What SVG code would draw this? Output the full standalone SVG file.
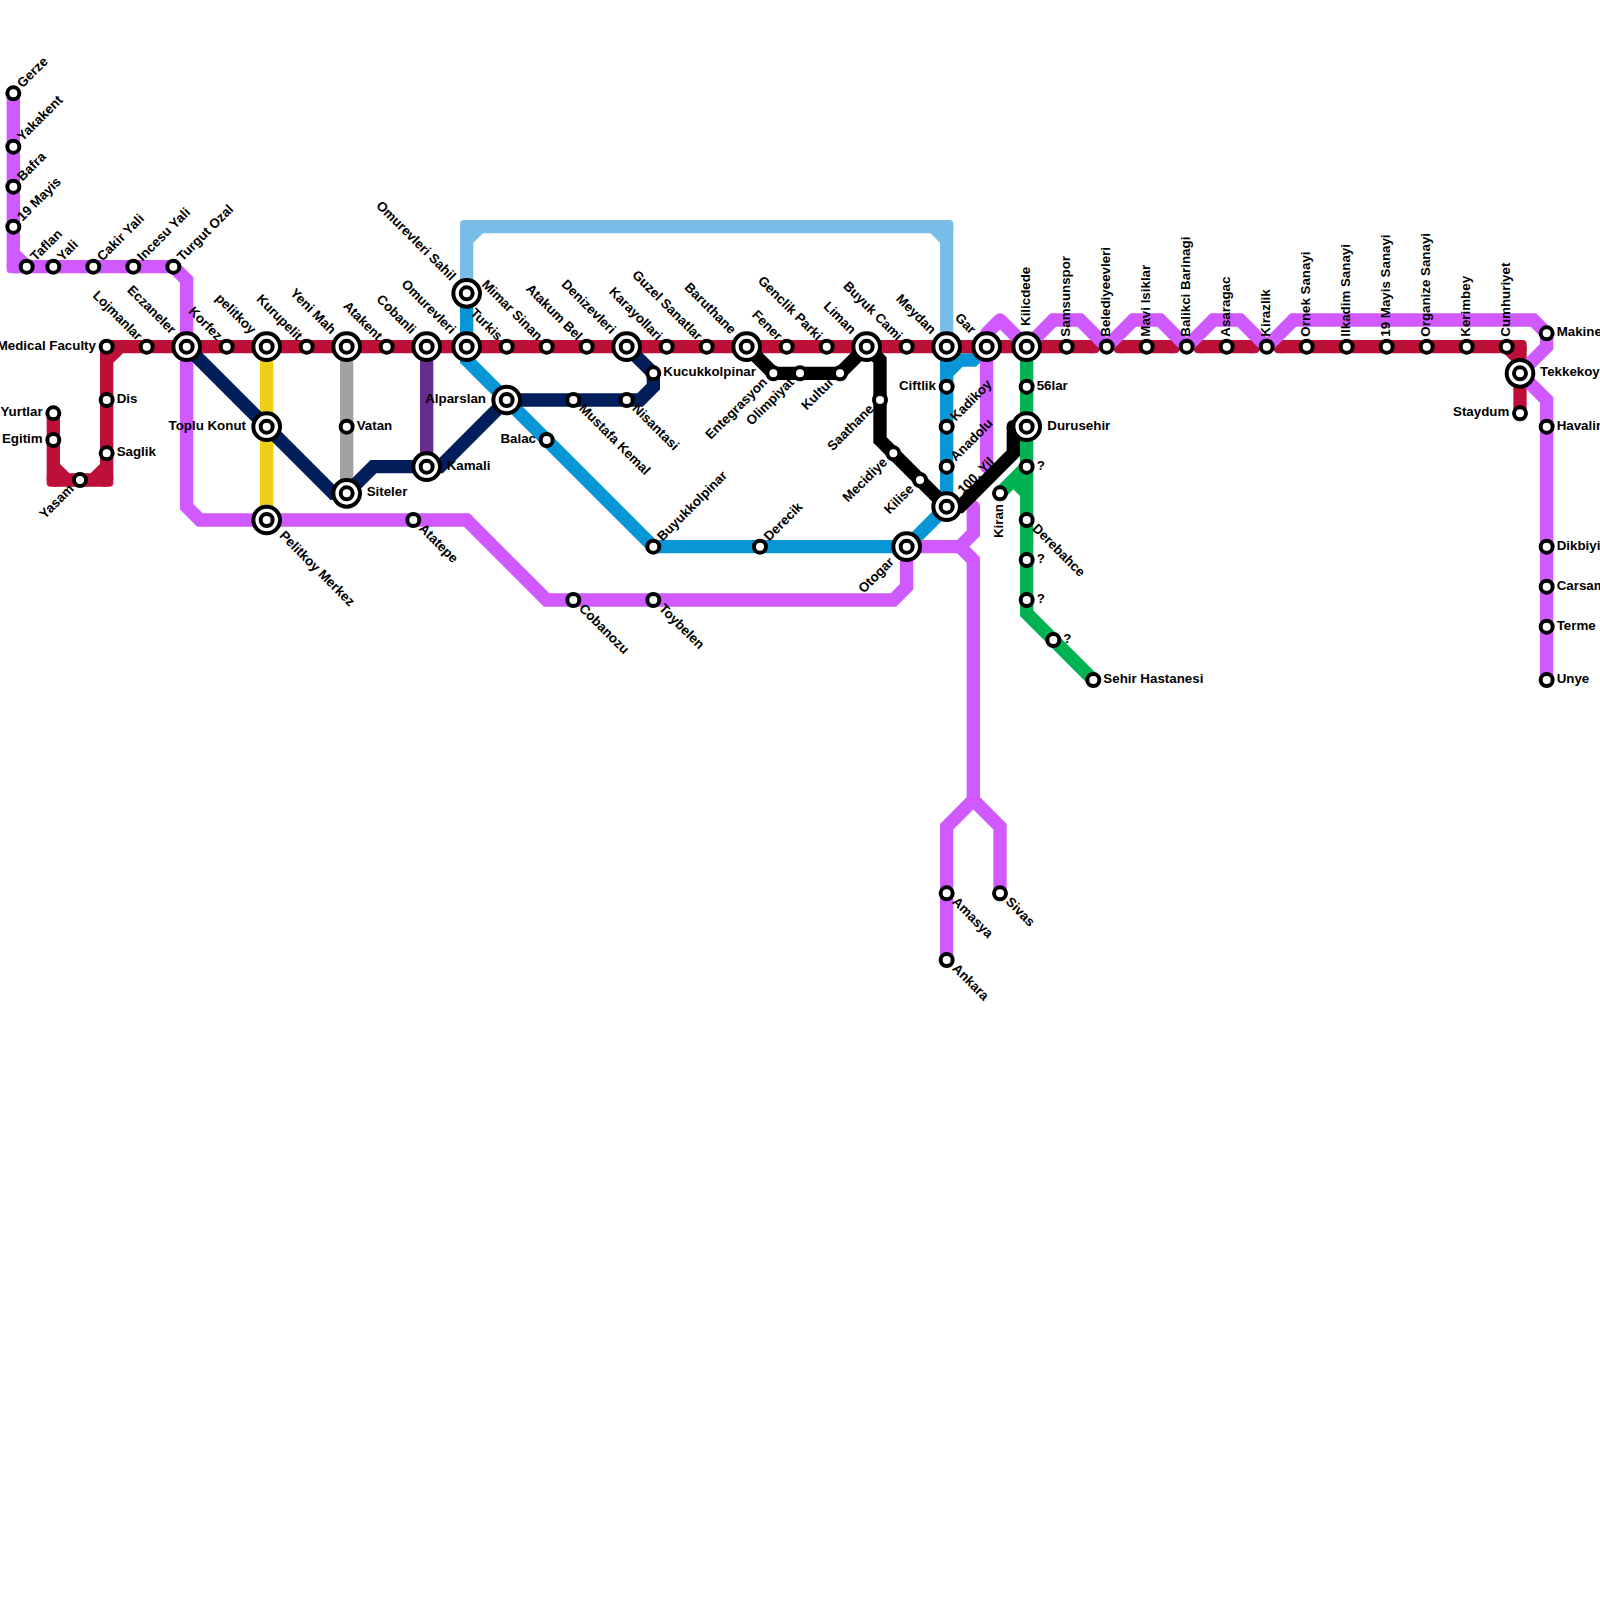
<svg xmlns="http://www.w3.org/2000/svg" width="1600" height="1600" viewBox="0 0 1600 1600">
<style>
text{font:bold 13.33px "Liberation Sans",Arial,sans-serif;fill:#000}
.e{text-anchor:end}
.l{fill:none;stroke-width:13.33;stroke-linejoin:miter;stroke-linecap:butt}
.rc{stroke-linecap:round}
.rj{stroke-linejoin:round}
.red{stroke:#BD1038}.pur{stroke:#D059FF}.tea{stroke:#0896D7}.sky{stroke:#79BDE9}.grn{stroke:#00B251}.nav{stroke:#021E5A}.blk{stroke:#000}.yel{stroke:#F0CE15}.gry{stroke:#A2A2A2}.dpu{stroke:#662C90}
</style>
<defs>
<rect id="c" x="-6.67" y="-6.67" width="13.33" height="13.33" rx="4"/>
<rect id="c2" x="-6.67" y="-6.67" width="13.33" height="13.33" rx="6"/>
<circle id="s" r="6" fill="#fff" stroke="#000" stroke-width="4"/>
<g id="b"><circle r="13.33" fill="#fff" stroke="#000" stroke-width="4"/><circle r="6" fill="#fff" stroke="#000" stroke-width="4"/></g>
</defs>
<rect width="1600" height="1600" fill="#fff"/>
<g id="connectors">
<path class="l tea" d="M466.67 346.67V360L653.33 546.67H906.67L946.67 506.67V346.67M946.67 373.33L960 360H973.33L986.67 346.67"/>
<path class="l sky" d="M466.67 293.33V226.67M466.67 226.67H946.67M946.67 226.67V346.67M466.67 240L480 226.67M933.33 226.67L946.67 240"/>
<g fill="#79BDE9"><use href="#c" x="466.67" y="226.67"/><use href="#c" x="946.67" y="226.67"/></g>
<path class="l tea" d="M466.67 293.33V346.67"/>
<path class="l yel" d="M266.67 346.67V520"/>
<path class="l gry" d="M346.67 346.67V493.33"/>
<path class="l dpu" d="M426.67 346.67V466.67"/>
<path class="l red" d="M53.33 413.33V480M53.33 480H106.67M106.67 480V346.67M106.67 346.67H1092.67M53.33 466.67L66.67 480M93.33 480L106.67 466.67M106.67 360L120 346.67M1120.67 346.67H1172.67M1200.67 346.67H1252.67M1280.67 346.67H1520M1520 346.67V413.33M1506.67 346.67L1520 360"/>
<g fill="#BD1038"><use href="#c" x="53.33" y="480"/><use href="#c" x="106.67" y="480"/><use href="#c" x="106.67" y="346.67"/><use href="#c" x="1092.67" y="346.67"/><use href="#c" x="1120.67" y="346.67"/><use href="#c" x="1172.67" y="346.67"/><use href="#c" x="1200.67" y="346.67"/><use href="#c" x="1252.67" y="346.67"/><use href="#c" x="1280.67" y="346.67"/><use href="#c" x="1520" y="346.67"/></g>
<path class="l pur" d="M13.33 93.33V266.67M13.33 266.67H173.33L186.67 280V506.67L200 520H466.67L546.67 600H893.33L906.67 586.67V546.67M13.33 253.33L26.67 266.67M960 546.67L973.33 560V800L946.67 826.67V960M973.33 800L1000 826.67V893.33"/>
<use href="#c" x="13.33" y="266.67" fill="#D059FF"/>
<path class="l pur rc" d="M906.67 546.67H960L973.33 533.33V506.67"/>
<path class="l pur rc" d="M986.67 346.67V466.67"/>
<path class="l pur rj" d="M986.67 346.67V333.33L1000 320L1026.67 346.67"/>
<path class="l pur" d="M1026.67 346.67L1053.33 320H1080L1106.67 346.67M1106.67 346.67L1133.33 320H1160L1186.67 346.67M1186.67 346.67L1213.33 320H1240L1266.67 346.67M1266.67 346.67L1293.33 320H1533.33L1546.67 333.33V346.67L1520 373.33L1546.67 400V680"/>
<path class="l grn" d="M1026.67 346.67V613.33L1093.33 680M1000 493.33L1026.67 466.67M1013.33 480L1026.67 493.33"/>
<path class="l nav" d="M186.67 346.67L333.33 493.33H346.67L373.33 466.67H440L506.67 400H640L653.33 386.67V373.33L626.67 346.67"/>
<path class="l blk" d="M746.67 346.67L773.33 373.33H840L866.67 346.67L880 360V440L946.67 506.67H960L1013.33 453.33V426.67M1013.33 426.67H1026.67"/>
<use href="#c2" x="1013.33" y="426.67" fill="#000"/>
</g>
<g id="nodes">
<g id="gerze" transform="translate(13.33 93.33)"><use href="#s"/><text transform="rotate(-45)" x="10" y="3">Gerze</text></g>
<g id="yakakent" transform="translate(13.33 146.67)"><use href="#s"/><text transform="rotate(-45)" x="10" y="3">Yakakent</text></g>
<g id="bafra" transform="translate(13.33 186.67)"><use href="#s"/><text transform="rotate(-45)" x="10" y="3">Bafra</text></g>
<g id="mayis19" transform="translate(13.33 226.67)"><use href="#s"/><text transform="rotate(-45)" x="10" y="3">19 Mayis</text></g>
<g id="taflan" transform="translate(26.67 266.67)"><use href="#s"/><text transform="rotate(-45)" x="10" y="3">Taflan</text></g>
<g id="yali" transform="translate(53.33 266.67)"><use href="#s"/><text transform="rotate(-45)" x="10" y="3">Yali</text></g>
<g id="cakir-yali" transform="translate(93.33 266.67)"><use href="#s"/><text transform="rotate(-45)" x="10" y="3">Cakir Yali</text></g>
<g id="incesu-yali" transform="translate(133.33 266.67)"><use href="#s"/><text transform="rotate(-45)" x="10" y="3">Incesu Yali</text></g>
<g id="turgut-ozal" transform="translate(173.33 266.67)"><use href="#s"/><text transform="rotate(-45)" x="10" y="3">Turgut Ozal</text></g>
<g id="medical-faculty" transform="translate(106.67 346.67)"><use href="#s"/><text class="e" x="-10.7" y="3">Medical Faculty</text></g>
<g id="dis" transform="translate(106.67 400)"><use href="#s"/><text x="10" y="3">Dis</text></g>
<g id="saglik" transform="translate(106.67 453.33)"><use href="#s"/><text x="10" y="3">Saglik</text></g>
<g id="yurtlar" transform="translate(53.33 413.33)"><use href="#s"/><text class="e" x="-10.7" y="3">Yurtlar</text></g>
<g id="egitim" transform="translate(53.33 440)"><use href="#s"/><text class="e" x="-10.7" y="3">Egitim</text></g>
<g id="yasam" transform="translate(80 480)"><use href="#s"/><text class="e" transform="rotate(-45)" x="-10.7" y="3">Yasam</text></g>
<g id="lojmanlar" transform="translate(146.67 346.67)"><use href="#s"/><text class="e" transform="rotate(45)" x="-10.7" y="3">Lojmanlar</text></g>
<g id="eczaneler" transform="translate(186.67 346.67)"><use href="#b"/><text class="e" transform="rotate(45)" x="-20" y="3">Eczaneler</text></g>
<g id="korfez" transform="translate(226.67 346.67)"><use href="#s"/><text class="e" transform="rotate(45)" x="-10.7" y="3">Korfez</text></g>
<g id="pelitkoy" transform="translate(266.67 346.67)"><use href="#b"/><text class="e" transform="rotate(45)" x="-20" y="3">pelitkoy</text></g>
<g id="kurupelit" transform="translate(306.67 346.67)"><use href="#s"/><text class="e" transform="rotate(45)" x="-10.7" y="3">Kurupelit</text></g>
<g id="yeni-mah" transform="translate(346.67 346.67)"><use href="#b"/><text class="e" transform="rotate(45)" x="-20" y="3">Yeni Mah</text></g>
<g id="atakent" transform="translate(386.67 346.67)"><use href="#s"/><text class="e" transform="rotate(45)" x="-10.7" y="3">Atakent</text></g>
<g id="cobanli" transform="translate(426.67 346.67)"><use href="#b"/><text class="e" transform="rotate(45)" x="-20" y="3">Cobanli</text></g>
<g id="omurevleri" transform="translate(466.67 346.67)"><use href="#b"/><text class="e" transform="rotate(45)" x="-20" y="3">Omurevleri</text></g>
<g id="omurevleri-sahil" transform="translate(466.67 293.33)"><use href="#b"/><text class="e" transform="rotate(45)" x="-20" y="3">Omurevleri Sahil</text></g>
<g id="turkis" transform="translate(506.67 346.67)"><use href="#s"/><text class="e" transform="rotate(45)" x="-10.7" y="3">Turkis</text></g>
<g id="mimar-sinan" transform="translate(546.67 346.67)"><use href="#s"/><text class="e" transform="rotate(45)" x="-10.7" y="3">Mimar Sinan</text></g>
<g id="atakum-bel" transform="translate(586.67 346.67)"><use href="#s"/><text class="e" transform="rotate(45)" x="-10.7" y="3">Atakum Bel</text></g>
<g id="denizevleri" transform="translate(626.67 346.67)"><use href="#b"/><text class="e" transform="rotate(45)" x="-20" y="3">Denizevleri</text></g>
<g id="karayollari" transform="translate(666.67 346.67)"><use href="#s"/><text class="e" transform="rotate(45)" x="-10.7" y="3">Karayollari</text></g>
<g id="guzel-sanatlar" transform="translate(706.67 346.67)"><use href="#s"/><text class="e" transform="rotate(45)" x="-10.7" y="3">Guzel Sanatlar</text></g>
<g id="baruthane" transform="translate(746.67 346.67)"><use href="#b"/><text class="e" transform="rotate(45)" x="-20" y="3">Baruthane</text></g>
<g id="fener" transform="translate(786.67 346.67)"><use href="#s"/><text class="e" transform="rotate(45)" x="-10.7" y="3">Fener</text></g>
<g id="genclik-parki" transform="translate(826.67 346.67)"><use href="#s"/><text class="e" transform="rotate(45)" x="-10.7" y="3">Genclik Parki</text></g>
<g id="liman" transform="translate(866.67 346.67)"><use href="#b"/><text class="e" transform="rotate(45)" x="-20" y="3">Liman</text></g>
<g id="buyuk-cami" transform="translate(906.67 346.67)"><use href="#s"/><text class="e" transform="rotate(45)" x="-10.7" y="3">Buyuk Cami</text></g>
<g id="meydan" transform="translate(946.67 346.67)"><use href="#b"/><text class="e" transform="rotate(45)" x="-20" y="3">Meydan</text></g>
<g id="gar" transform="translate(986.67 346.67)"><use href="#b"/><text class="e" transform="rotate(45)" x="-20" y="3">Gar</text></g>
<g id="kilicdede" transform="translate(1026.67 346.67)"><use href="#b"/><text transform="rotate(-90)" x="20.7" y="3">Kilicdede</text></g>
<g id="samsunspor" transform="translate(1066.67 346.67)"><use href="#s"/><text transform="rotate(-90)" x="10" y="3">Samsunspor</text></g>
<g id="belediyeevleri" transform="translate(1106.67 346.67)"><use href="#s"/><text transform="rotate(-90)" x="10" y="3">Belediyeevleri</text></g>
<g id="mavi-isiklar" transform="translate(1146.67 346.67)"><use href="#s"/><text transform="rotate(-90)" x="10" y="3">Mavi Isiklar</text></g>
<g id="balikci-barinagi" transform="translate(1186.67 346.67)"><use href="#s"/><text transform="rotate(-90)" x="10" y="3">Balikci Barinagi</text></g>
<g id="asaragac" transform="translate(1226.67 346.67)"><use href="#s"/><text transform="rotate(-90)" x="10" y="3">Asaragac</text></g>
<g id="kirazlik" transform="translate(1266.67 346.67)"><use href="#s"/><text transform="rotate(-90)" x="10" y="3">Kirazlik</text></g>
<g id="ornek-sanayi" transform="translate(1306.67 346.67)"><use href="#s"/><text transform="rotate(-90)" x="10" y="3">Ornek Sanayi</text></g>
<g id="ilkadim-sanayi" transform="translate(1346.67 346.67)"><use href="#s"/><text transform="rotate(-90)" x="10" y="3">Ilkadim Sanayi</text></g>
<g id="mayis19-sanayi" transform="translate(1386.67 346.67)"><use href="#s"/><text transform="rotate(-90)" x="10" y="3">19 Mayis Sanayi</text></g>
<g id="organize-sanayi" transform="translate(1426.67 346.67)"><use href="#s"/><text transform="rotate(-90)" x="10" y="3">Organize Sanayi</text></g>
<g id="kerimbey" transform="translate(1466.67 346.67)"><use href="#s"/><text transform="rotate(-90)" x="10" y="3">Kerimbey</text></g>
<g id="cumhuriyet" transform="translate(1506.67 346.67)"><use href="#s"/><text transform="rotate(-90)" x="10" y="3">Cumhuriyet</text></g>
<g id="tekkekoy" transform="translate(1520 373.33)"><use href="#b"/><text x="20" y="3">Tekkekoy</text></g>
<g id="staydum" transform="translate(1520 413.33)"><use href="#s"/><text class="e" x="-10.7" y="3">Staydum</text></g>
<g id="makine" transform="translate(1546.67 333.33)"><use href="#s"/><text x="10" y="3">Makine</text></g>
<g id="havalimani" transform="translate(1546.67 426.67)"><use href="#s"/><text x="10" y="3">Havalimani</text></g>
<g id="dikbiyi" transform="translate(1546.67 546.67)"><use href="#s"/><text x="10" y="3">Dikbiyi</text></g>
<g id="carsamba" transform="translate(1546.67 586.67)"><use href="#s"/><text x="10" y="3">Carsamba</text></g>
<g id="terme" transform="translate(1546.67 626.67)"><use href="#s"/><text x="10" y="3">Terme</text></g>
<g id="unye" transform="translate(1546.67 680)"><use href="#s"/><text x="10" y="3">Unye</text></g>
<g id="toplu-konut" transform="translate(266.67 426.67)"><use href="#b"/><text class="e" x="-20.7" y="3">Toplu Konut</text></g>
<g id="pelitkoy-merkez" transform="translate(266.67 520)"><use href="#b"/><text transform="rotate(45)" x="20" y="3">Pelitkoy Merkez</text></g>
<g id="vatan" transform="translate(346.67 426.67)"><use href="#s"/><text x="10" y="3">Vatan</text></g>
<g id="siteler" transform="translate(346.67 493.33)"><use href="#b"/><text x="20" y="3">Siteler</text></g>
<g id="kamali" transform="translate(426.67 466.67)"><use href="#b"/><text x="20" y="3">Kamali</text></g>
<g id="atatepe" transform="translate(413.33 520)"><use href="#s"/><text transform="rotate(45)" x="10" y="3">Atatepe</text></g>
<g id="alparslan" transform="translate(506.67 400)"><use href="#b"/><text class="e" x="-20.7" y="3">Alparslan</text></g>
<g id="balac" transform="translate(546.67 440)"><use href="#s"/><text class="e" x="-10.7" y="3">Balac</text></g>
<g id="mustafa-kemal" transform="translate(573.33 400)"><use href="#s"/><text transform="rotate(45)" x="10" y="3">Mustafa Kemal</text></g>
<g id="nisantasi" transform="translate(626.67 400)"><use href="#s"/><text transform="rotate(45)" x="10" y="3">Nisantasi</text></g>
<g id="kucukkolpinar" transform="translate(653.33 373.33)"><use href="#s"/><text x="10" y="3">Kucukkolpinar</text></g>
<g id="buyukkolpinar" transform="translate(653.33 546.67)"><use href="#s"/><text transform="rotate(-45)" x="10" y="3">Buyukkolpinar</text></g>
<g id="derecik" transform="translate(760 546.67)"><use href="#s"/><text transform="rotate(-45)" x="10" y="3">Derecik</text></g>
<g id="cobanozu" transform="translate(573.33 600)"><use href="#s"/><text transform="rotate(45)" x="10" y="3">Cobanozu</text></g>
<g id="toybelen" transform="translate(653.33 600)"><use href="#s"/><text transform="rotate(45)" x="10" y="3">Toybelen</text></g>
<g id="entegrasyon" transform="translate(773.33 373.33)"><use href="#s"/><text class="e" transform="rotate(-45)" x="-10.7" y="3">Entegrasyon</text></g>
<g id="olimpiyat" transform="translate(800 373.33)"><use href="#s"/><text class="e" transform="rotate(-45)" x="-10.7" y="3">Olimpiyat</text></g>
<g id="kultur" transform="translate(840 373.33)"><use href="#s"/><text class="e" transform="rotate(-45)" x="-10.7" y="3">Kultur</text></g>
<g id="saathane" transform="translate(880 400)"><use href="#s"/><text class="e" transform="rotate(-45)" x="-10.7" y="3">Saathane</text></g>
<g id="mecidiye" transform="translate(893.33 453.33)"><use href="#s"/><text class="e" transform="rotate(-45)" x="-10.7" y="3">Mecidiye</text></g>
<g id="kilise" transform="translate(920 480)"><use href="#s"/><text class="e" transform="rotate(-45)" x="-10.7" y="3">Kilise</text></g>
<g id="otogar" transform="translate(906.67 546.67)"><use href="#b"/><text class="e" transform="rotate(-45)" x="-20" y="3">Otogar</text></g>
<g id="ciftlik" transform="translate(946.67 386.67)"><use href="#s"/><text class="e" x="-10.7" y="3">Ciftlik</text></g>
<g id="kadikoy" transform="translate(946.67 426.67)"><use href="#s"/><text transform="rotate(-45)" x="10" y="3">Kadikoy</text></g>
<g id="anadolu" transform="translate(946.67 466.67)"><use href="#s"/><text transform="rotate(-45)" x="10" y="3">Anadolu</text></g>
<g id="yil100" transform="translate(946.67 506.67)"><use href="#b"/><text transform="rotate(-45)" x="20" y="3">100. Yil</text></g>
<g id="kiran" transform="translate(1000 493.33)"><use href="#s"/><text class="e" transform="rotate(-90)" x="-10.7" y="3">Kiran</text></g>
<g id="lar56" transform="translate(1026.67 386.67)"><use href="#s"/><text x="10" y="3">56lar</text></g>
<g id="durusehir" transform="translate(1026.67 426.67)"><use href="#b"/><text x="20.7" y="3">Durusehir</text></g>
<g id="q1" transform="translate(1026.67 466.67)"><use href="#s"/><text x="10" y="3">?</text></g>
<g id="derebahce" transform="translate(1026.67 520)"><use href="#s"/><text transform="rotate(45)" x="10" y="3">Derebahce</text></g>
<g id="q2" transform="translate(1026.67 560)"><use href="#s"/><text x="10" y="3">?</text></g>
<g id="q3" transform="translate(1026.67 600)"><use href="#s"/><text x="10" y="3">?</text></g>
<g id="q4" transform="translate(1053.33 640)"><use href="#s"/><text x="10" y="3">?</text></g>
<g id="sehir-hastanesi" transform="translate(1093.33 680)"><use href="#s"/><text x="10" y="3">Sehir Hastanesi</text></g>
<g id="amasya" transform="translate(946.67 893.33)"><use href="#s"/><text transform="rotate(45)" x="10" y="3">Amasya</text></g>
<g id="ankara" transform="translate(946.67 960)"><use href="#s"/><text transform="rotate(45)" x="10" y="3">Ankara</text></g>
<g id="sivas" transform="translate(1000 893.33)"><use href="#s"/><text transform="rotate(45)" x="10" y="3">Sivas</text></g>
</g>
</svg>
